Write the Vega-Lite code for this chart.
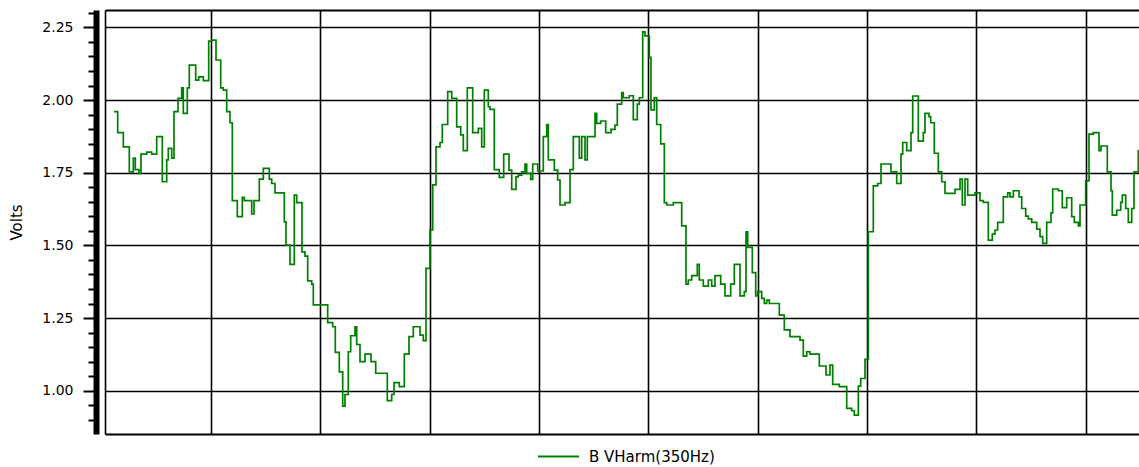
{
"$schema": "https://vega.github.io/schema/vega-lite/v6.json",
"width": 1034, "height": 424,
"autosize": {"type": "none"},
"padding": {"left": 105, "top": 10, "right": 0, "bottom": 33},
"background": "white",
"config": {"view": {"stroke": null}, "font": "DejaVu Sans"},
"data": {"values": [
{"t":9,"v":1.960},{"t":12.7,"v":1.888},{"t":18.3,"v":1.839},{"t":24.3,"v":1.753},{"t":28.3,"v":1.800},{"t":30.3,"v":1.761},{"t":34,"v":1.748},{"t":36,"v":1.814},{"t":41.7,"v":1.821},{"t":46.7,"v":1.814},{"t":51.7,"v":1.874},{"t":57.3,"v":1.719},{"t":61.7,"v":1.794},{"t":63.3,"v":1.834},{"t":66.7,"v":1.800},{"t":69,"v":1.960},{"t":73,"v":2.006},{"t":76.7,"v":2.042},{"t":78.3,"v":1.954},{"t":82.3,"v":2.042},{"t":84.3,"v":2.120},{"t":90.7,"v":2.069},{"t":93.7,"v":2.080},{"t":98.3,"v":2.067},{"t":103.7,"v":2.203},{"t":106.7,"v":2.206},{"t":111,"v":2.138},{"t":115.7,"v":2.042},{"t":118.3,"v":2.034},{"t":121.7,"v":1.960},{"t":125,"v":1.922},{"t":127.3,"v":1.654},{"t":132.3,"v":1.599},{"t":137.3,"v":1.665},{"t":139.3,"v":1.654},{"t":146.7,"v":1.608},{"t":149,"v":1.654},{"t":154.3,"v":1.728},{"t":158.3,"v":1.765},{"t":164.3,"v":1.728},{"t":166.7,"v":1.713},{"t":170,"v":1.681},{"t":179.3,"v":1.581},{"t":181,"v":1.501},{"t":185,"v":1.435},{"t":189.3,"v":1.673},{"t":191.7,"v":1.647},{"t":197,"v":1.478},{"t":200,"v":1.463},{"t":202.7,"v":1.378},{"t":206.7,"v":1.367},{"t":208.3,"v":1.295},{"t":222.7,"v":1.234},{"t":227.7,"v":1.220},{"t":230.3,"v":1.132},{"t":234.3,"v":1.065},{"t":237.7,"v":0.947},{"t":240,"v":0.987},{"t":243.3,"v":1.134},{"t":245.7,"v":1.189},{"t":250,"v":1.220},{"t":251.7,"v":1.159},
{"t":255,"v":1.100},{"t":260,"v":1.126},{"t":266,"v":1.100},{"t":270.7,"v":1.060},{"t":282.3,"v":0.966},{"t":286.7,"v":0.987},{"t":289,"v":1.028},{"t":294.3,"v":1.014},{"t":299.3,"v":1.126},{"t":304,"v":1.186},{"t":308.3,"v":1.220},{"t":315,"v":1.191},{"t":318.3,"v":1.172},{"t":321,"v":1.421},{"t":325,"v":1.553},{"t":327.7,"v":1.708},{"t":331,"v":1.839},{"t":335,"v":1.854},{"t":337.3,"v":1.916},{"t":342.7,"v":2.029},{"t":346.7,"v":2.006},{"t":351.7,"v":1.908},{"t":355.7,"v":1.880},{"t":358.3,"v":1.826},{"t":362.3,"v":2.042},{"t":367.7,"v":1.888},{"t":373.3,"v":1.903},{"t":376.7,"v":1.839},{"t":379.3,"v":2.034},{"t":383.3,"v":1.977},{"t":385,"v":1.968},{"t":389.3,"v":1.761},{"t":394.3,"v":1.734},{"t":398.7,"v":1.814},{"t":404,"v":1.759},{"t":406.7,"v":1.693},{"t":411,"v":1.736},{"t":413.3,"v":1.742},{"t":416.7,"v":1.753},{"t":420,"v":1.780},{"t":421.7,"v":1.748},{"t":425.7,"v":1.727},{"t":427.7,"v":1.780},{"t":432.7,"v":1.756},{"t":438.3,"v":1.874},{"t":441.7,"v":1.916},{"t":443.3,"v":1.794},{"t":449.3,"v":1.759},{"t":452.7,"v":1.725},{"t":455,"v":1.639},{"t":460,"v":1.647},{"t":465,"v":1.761},{"t":468.3,"v":1.874},{"t":474.3,"v":1.800},{"t":476.7,"v":1.874},{"t":480,"v":1.794},{"t":482.3,"v":1.874},{"t":490,"v":1.954},{"t":491.7,"v":1.920},{"t":495.7,"v":1.928},{"t":500.7,"v":1.888},{"t":506,"v":1.899},
{"t":510,"v":1.914},{"t":512.3,"v":1.986},{"t":516.7,"v":2.026},{"t":518.3,"v":2.008},{"t":524.3,"v":2.015},{"t":528.3,"v":1.933},{"t":532.3,"v":1.986},{"t":534.3,"v":2.008},{"t":537.7,"v":2.235},{"t":540,"v":2.221},{"t":544.3,"v":2.147},{"t":546,"v":1.966},{"t":549.3,"v":2.008},{"t":551.7,"v":1.916},{"t":555.7,"v":1.849},{"t":559.3,"v":1.647},{"t":561.7,"v":1.639},{"t":568.3,"v":1.647},{"t":576.7,"v":1.567},{"t":581,"v":1.367},{"t":583.3,"v":1.381},{"t":586.7,"v":1.396},{"t":592.3,"v":1.435},{"t":594.3,"v":1.381},{"t":598.3,"v":1.360},{"t":603.3,"v":1.381},{"t":606.7,"v":1.360},{"t":610,"v":1.396},{"t":615.7,"v":1.367},{"t":620,"v":1.326},{"t":625.7,"v":1.367},{"t":629.3,"v":1.435},{"t":635,"v":1.326},{"t":639.3,"v":1.341},{"t":641,"v":1.547},{"t":642.7,"v":1.493},{"t":647.3,"v":1.406},{"t":650.7,"v":1.326},{"t":652.7,"v":1.341},{"t":656.7,"v":1.318},{"t":659.3,"v":1.300},{"t":661.7,"v":1.312},{"t":664.3,"v":1.300},{"t":674.3,"v":1.260},{"t":679.3,"v":1.209},{"t":685,"v":1.186},{"t":695,"v":1.174},{"t":698.3,"v":1.119},{"t":701.7,"v":1.134},{"t":705,"v":1.126},{"t":714.3,"v":1.085},{"t":721,"v":1.054},{"t":725,"v":1.088},{"t":727.7,"v":1.022},{"t":734.3,"v":1.014},{"t":741.7,"v":0.939},{"t":746.7,"v":0.931},{"t":749.3,"v":0.916},{"t":753.3,"v":1.016},{"t":755.7,"v":1.042},{"t":760,"v":1.108},{"t":763.3,"v":1.547},{"t":768.3,"v":1.705},
{"t":772.7,"v":1.713},{"t":776,"v":1.780},{"t":786,"v":1.753},{"t":791.7,"v":1.713},{"t":796,"v":1.814},{"t":797.7,"v":1.854},{"t":801.7,"v":1.826},{"t":806,"v":1.888},{"t":807.7,"v":2.014},{"t":813.3,"v":1.859},{"t":818.3,"v":1.888},{"t":820,"v":1.954},{"t":824,"v":1.943},{"t":825.7,"v":1.922},{"t":829.3,"v":1.817},{"t":833.3,"v":1.753},{"t":836.7,"v":1.719},{"t":840,"v":1.679},{"t":850,"v":1.693},{"t":855,"v":1.728},{"t":857.3,"v":1.639},{"t":860,"v":1.728},{"t":862.7,"v":1.673},{"t":870,"v":1.681},{"t":875,"v":1.654},{"t":878.3,"v":1.648},{"t":883.3,"v":1.518},{"t":887.3,"v":1.539},{"t":890,"v":1.553},{"t":892.7,"v":1.579},{"t":898.3,"v":1.667},{"t":902.7,"v":1.681},{"t":905,"v":1.667},{"t":908.3,"v":1.688},{"t":914,"v":1.667},{"t":916.7,"v":1.627},{"t":920.7,"v":1.601},{"t":923.3,"v":1.591},{"t":926.7,"v":1.579},{"t":931.7,"v":1.556},{"t":935,"v":1.530},{"t":937.7,"v":1.507},{"t":941.7,"v":1.579},{"t":946,"v":1.612},{"t":947.7,"v":1.694},{"t":953.3,"v":1.688},{"t":957.3,"v":1.630},{"t":961.7,"v":1.664},{"t":966.7,"v":1.599},{"t":969.3,"v":1.579},{"t":973.3,"v":1.567},{"t":975,"v":1.639},{"t":980.7,"v":1.722},{"t":984,"v":1.883},{"t":988.3,"v":1.888},{"t":994,"v":1.826},{"t":996,"v":1.842},{"t":1002.3,"v":1.753},{"t":1006,"v":1.688},{"t":1007.3,"v":1.604},{"t":1011.7,"v":1.621},{"t":1015.7,"v":1.648},{"t":1017.3,"v":1.673},{"t":1020.7,"v":1.627},{"t":1023.3,"v":1.579},{"t":1026.7,"v":1.627},{"t":1029,"v":1.753},{"t":1033.3,"v":1.826},{"t":1034,"v":1.826}
]},
"layer": [
{
"mark": {"type": "line", "interpolate": "step-after", "strokeWidth": 1.7, "clip": true},
"encoding": {
"x": {"field": "t", "type": "quantitative",
 "scale": {"domain": [0, 1034], "nice": false, "zero": false},
 "axis": {"orient": "bottom", "values": [0,106,215.3,324.7,434,543.4,652.7,762,871.4,980.7], "grid": true, "gridColor": "black", "gridWidth": 1.6, "gridOpacity": 1, "ticks": false, "labels": false, "domain": true, "domainColor": "black", "domainWidth": 2, "title": null}},
"y": {"field": "v", "type": "quantitative",
 "scale": {"domain": [0.851, 2.31], "nice": false, "zero": false},
 "axis": {"orient": "left", "offset": 9,
  "values": [0.9,0.95,1,1.05,1.1,1.15,1.2,1.25,1.3,1.35,1.4,1.45,1.5,1.55,1.6,1.65,1.7,1.75,1.8,1.85,1.9,1.95,2,2.05,2.1,2.15,2.2,2.25,2.3],
  "labelExpr": "abs(datum.value*4 - round(datum.value*4)) < 0.001 ? format(datum.value, '.2f') : ''",
  "labelOverlap": false,
  "grid": true, "gridColor": "black", "gridWidth": 1.6,
  "gridOpacity": {"condition": {"test": "abs(datum.value*4 - round(datum.value*4)) < 0.001", "value": 1}, "value": 0},
  "tickSize": {"condition": {"test": "abs(datum.value*4 - round(datum.value*4)) < 0.001", "value": 13}, "value": 8},
  "tickColor": "black", "tickWidth": 2,
  "domain": true, "domainColor": "black", "domainWidth": 6,
  "labelFont": "DejaVu Sans", "labelFontSize": 14, "labelColor": "black", "labelPadding": 10,
  "title": "Volts", "titleFont": "DejaVu Sans", "titleFontSize": 15, "titleFontWeight": "normal", "titleColor": "black", "titlePadding": 17}},
"color": {"datum": "B VHarm(350Hz)", "type": "nominal", "scale": {"range": ["#008000"]},
 "legend": {"orient": "none", "legendX": 432, "legendY": 425, "title": null, "direction": "horizontal", "symbolType": "stroke", "symbolSize": 1681, "symbolStrokeWidth": 2, "symbolStrokeColor": "#008000", "labelFont": "DejaVu Sans", "labelFontSize": 15, "labelColor": "black", "labelOffset": 9, "padding": 0}}
}
},
{
"mark": {"type": "line", "opacity": 0},
"encoding": {
"x": {"field": "t", "type": "quantitative", "axis": {"orient": "top", "grid": false, "ticks": false, "labels": false, "domain": true, "domainColor": "black", "domainWidth": 2, "title": null}},
"y": {"field": "v", "type": "quantitative", "axis": null}
}
}
],
"resolve": {"axis": {"x": "independent", "y": "independent"}}
}
